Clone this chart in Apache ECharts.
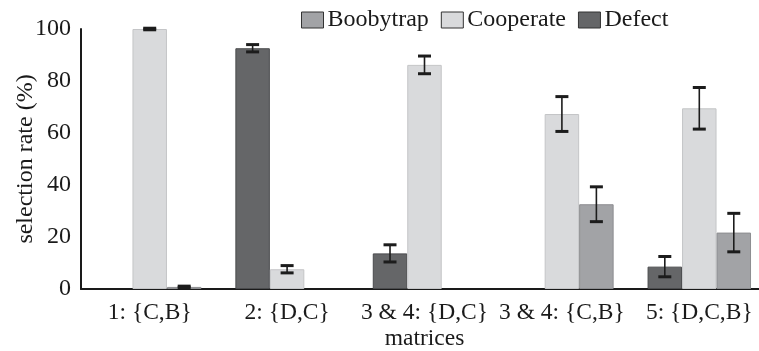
<!DOCTYPE html>
<html><head><meta charset="utf-8">
<script src="https://cdn.jsdelivr.net/npm/echarts@6/dist/echarts.min.js"></script>
<style>html,body{margin:0;padding:0;background:#fff}#c{width:759px;height:351px}</style>
</head><body><div id="c"></div>
<script>
const categories = ['1: {C,B}', '2: {D,C}', '3 & 4: {D,C}', '3 & 4: {C,B}', '5: {D,C,B}'];
const defect     = [null, 92.6, 13.7, null, 8.6];
const defectErr  = [null, 1.4, 3.3, null, 3.9];
const cooperate  = [100, 7.6, 86.2, 67.3, 69.5];
const cooperateErr = [0.3, 1.4, 3.4, 6.7, 8.0];
const boobytrap  = [0.8, null, null, 32.6, 21.7];
const boobytrapErr = [0.3, null, null, 6.7, 7.4];
const yTicks = [0, 20, 40, 60, 80, 100];

const FONT = 'Liberation Serif';
const GAP = 0.247;
const chart = echarts.init(document.getElementById('c'));

function errSeries(vals, errs, slot) {
  return {
    type: 'custom', name: 'err' + slot, silent: true, z: 10,
    data: vals.map((v, i) => v == null ? null : [i, v, errs[i]]).filter(d => d),
    renderItem: function (params, api) {
      const i = api.value(0), v = api.value(1), e = api.value(2);
      const band = api.size([1, 0])[0];
      const bw = band * (1 - GAP) / 3;
      const top = api.coord([i, v + e]);
      const bot = api.coord([i, v - e]);
      const x = top[0] + slot * bw;
      const cap = 6.5;
      const st = { stroke: '#1c1c1c', lineWidth: 1.6 };
      const cs = { stroke: '#1c1c1c', lineWidth: 3 };
      return { type: 'group', children: [
        { type: 'line', shape: { x1: x, y1: top[1], x2: x, y2: bot[1] }, style: st },
        { type: 'line', shape: { x1: x - cap, y1: top[1], x2: x + cap, y2: top[1] }, style: cs },
        { type: 'line', shape: { x1: x - cap, y1: bot[1], x2: x + cap, y2: bot[1] }, style: cs }
      ]};
    }
  };
}

chart.setOption({
  animation: false,
  backgroundColor: '#fff',
  textStyle: { fontFamily: FONT },
  legend: {
    data: ['Boobytrap', 'Cooperate', 'Defect'],
    left: 296, top: 3, itemWidth: 22, itemHeight: 16, itemGap: 12,
    itemStyle: { borderColor: '#333', borderWidth: 1 },
    textStyle: { fontFamily: FONT, fontSize: 24, color: '#1a1a1a', padding: [0, 0, 0, -1] },
    icon: 'rect'
  },
  grid: { left: 81, right: -9, top: 29, bottom: 62, containLabel: false, outerBoundsMode: 'none' },
  xAxis: {
    type: 'category', data: categories,
    name: 'matrices', nameLocation: 'middle', nameGap: 38, nameMoveOverlap: false,
    nameTextStyle: { fontFamily: FONT, fontSize: 23.5, color: '#1a1a1a' },
    axisLine: { lineStyle: { color: '#1a1a1a', width: 2 } },
    axisTick: { show: false },
    axisLabel: { interval: 0, hideOverlap: false, fontFamily: FONT, fontSize: 23.5, color: '#1a1a1a', margin: 12 }
  },
  yAxis: {
    type: 'value', min: yTicks[0], max: yTicks[yTicks.length - 1], interval: 20,
    name: 'selection rate (%)', nameLocation: 'middle', nameGap: 43, nameMoveOverlap: false,
    nameTextStyle: { fontFamily: FONT, fontSize: 24, color: '#1a1a1a' },
    axisLine: { show: true, lineStyle: { color: '#1a1a1a', width: 2 } },
    axisTick: { show: false },
    splitLine: { show: false },
    axisLabel: { fontFamily: FONT, fontSize: 24, color: '#1a1a1a', margin: 10 }
  },
  series: [
    { name: 'Defect', type: 'bar', data: defect, barGap: 0, barCategoryGap: (GAP * 100) + '%',
      itemStyle: { color: '#656668', borderColor: '#4a4b4d', borderWidth: 1 } },
    { name: 'Cooperate', type: 'bar', data: cooperate, barGap: 0, barCategoryGap: (GAP * 100) + '%',
      itemStyle: { color: '#d9dadc', borderColor: '#c4c5c7', borderWidth: 1 } },
    { name: 'Boobytrap', type: 'bar', data: boobytrap, barGap: 0, barCategoryGap: (GAP * 100) + '%',
      itemStyle: { color: '#a2a3a6', borderColor: '#8c8d90', borderWidth: 1 } },
    errSeries(defect, defectErr, -1),
    errSeries(cooperate, cooperateErr, 0),
    errSeries(boobytrap, boobytrapErr, 1)
  ]
});
</script></body></html>
